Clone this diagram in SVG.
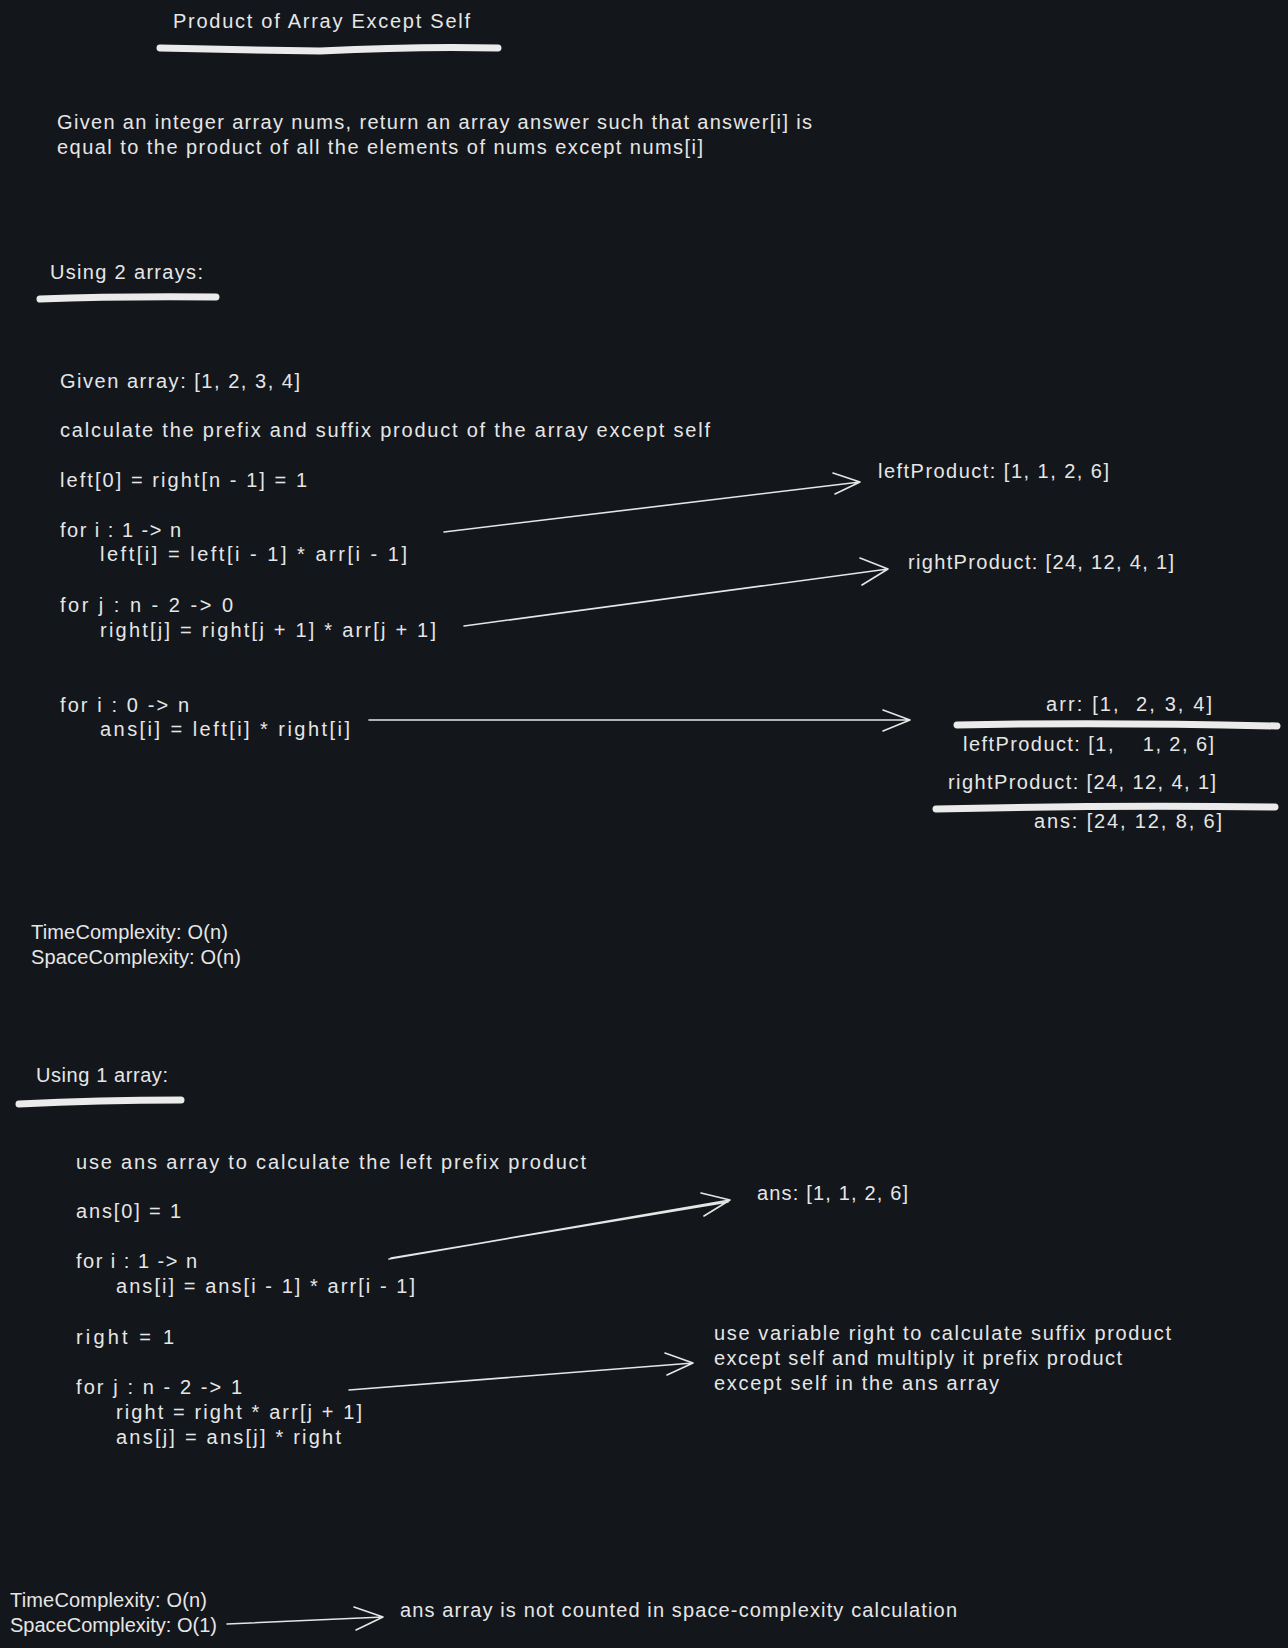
<svg xmlns="http://www.w3.org/2000/svg" width="1288" height="1648" viewBox="0 0 1288 1648">
  <style>
    .t { font-family: "Liberation Sans", "DejaVu Sans", sans-serif; font-size: 20px; fill: #e6e6e6; white-space: pre; }
    .ul { fill: none; stroke: #ebebeb; stroke-width: 7; stroke-linecap: round; stroke-linejoin: round; }
    .ar { fill: none; stroke: #e6e6e6; stroke-width: 1.6; stroke-linecap: round; stroke-linejoin: round; }
  </style>
  <rect width="1288" height="1648" fill="#13161b"/>

  <!-- heading -->
  <g id="title">
    <text class="t" x="173" y="28" textLength="297">Product of Array Except Self</text>
    <path class="ul" d="M160 48 Q240 50 320 51 Q420 46 498 48"/>
  </g>

  <g id="problem">
    <text class="t" x="57" y="129" textLength="755">Given an integer array nums, return an array answer such that answer[i] is</text>
    <text class="t" x="57" y="154" textLength="646">equal to the product of all the elements of nums except nums[i]</text>
  </g>

  <!-- approach 1: two arrays -->
  <g id="heading-two-arrays">
    <text class="t" x="50" y="279" textLength="153">Using 2 arrays:</text>
    <path class="ul" d="M40 299 Q120 296 216 297"/>
  </g>

  <g id="two-arrays-steps">
    <text class="t" x="60" y="388" textLength="240">Given array: [1, 2, 3, 4]</text>
    <text class="t" x="60" y="437" textLength="650">calculate the prefix and suffix product of the array except self</text>
    <text class="t" x="60" y="487" textLength="247">left[0] = right[n - 1] = 1</text>
    <text class="t" x="60" y="537" textLength="121">for i : 1 -&gt; n</text>
    <text class="t" x="100" y="561" textLength="307">left[i] = left[i - 1] * arr[i - 1]</text>
    <text class="t" x="60" y="612" textLength="173">for j : n - 2 -&gt; 0</text>
    <text class="t" x="100" y="637" textLength="336">right[j] = right[j + 1] * arr[j + 1]</text>
    <text class="t" x="60" y="712" textLength="129">for i : 0 -&gt; n</text>
    <text class="t" x="100" y="736" textLength="250">ans[i] = left[i] * right[i]</text>
  </g>

  <g id="left-product">
    <text class="t" x="878" y="478" textLength="231">leftProduct: [1, 1, 2, 6]</text>
  </g>
  <g id="right-product">
    <text class="t" x="908" y="569" textLength="266">rightProduct: [24, 12, 4, 1]</text>
  </g>

  <g id="product-table">
    <text class="t" x="1046" y="711" textLength="166">arr: [1,  2, 3, 4]</text>
    <path class="ul" d="M957 725 Q1100 722 1277 726"/>
    <text class="t" x="963" y="751" textLength="251">leftProduct: [1,    1, 2, 6]</text>
    <text class="t" x="948" y="789" textLength="268">rightProduct: [24, 12, 4, 1]</text>
    <path class="ul" d="M936 809 Q1100 805 1275 807"/>
    <text class="t" x="1034" y="828" textLength="188">ans: [24, 12, 8, 6]</text>
  </g>

  <g id="complexity-two-arrays">
    <text class="t" x="31" y="939" textLength="197">TimeComplexity: O(n)</text>
    <text class="t" x="31" y="964" textLength="210">SpaceComplexity: O(n)</text>
  </g>

  <!-- approach 2: one array -->
  <g id="heading-one-array">
    <text class="t" x="36" y="1082" textLength="132">Using 1 array:</text>
    <path class="ul" d="M19 1104 Q100 1100 181 1100"/>
  </g>

  <g id="one-array-steps">
    <text class="t" x="76" y="1169" textLength="510">use ans array to calculate the left prefix product</text>
    <text class="t" x="76" y="1218" textLength="105">ans[0] = 1</text>
    <text class="t" x="76" y="1268" textLength="121">for i : 1 -&gt; n</text>
    <text class="t" x="116" y="1293" textLength="299">ans[i] = ans[i - 1] * arr[i - 1]</text>
    <text class="t" x="76" y="1344" textLength="98">right = 1</text>
    <text class="t" x="76" y="1394" textLength="166">for j : n - 2 -&gt; 1</text>
    <text class="t" x="116" y="1419" textLength="246">right = right * arr[j + 1]</text>
    <text class="t" x="116" y="1444" textLength="225">ans[j] = ans[j] * right</text>
  </g>

  <g id="ans-prefix">
    <text class="t" x="757" y="1200" textLength="151">ans: [1, 1, 2, 6]</text>
  </g>

  <g id="suffix-note">
    <text class="t" x="714" y="1340" textLength="457">use variable right to calculate suffix product</text>
    <text class="t" x="714" y="1365" textLength="408">except self and multiply it prefix product</text>
    <text class="t" x="714" y="1390" textLength="285">except self in the ans array</text>
  </g>

  <g id="complexity-one-array">
    <text class="t" x="10" y="1607" textLength="197">TimeComplexity: O(n)</text>
    <text class="t" x="10" y="1632" textLength="207">SpaceComplexity: O(1)</text>
  </g>

  <g id="space-note">
    <text class="t" x="400" y="1617" textLength="557">ans array is not counted in space-complexity calculation</text>
  </g>

  <!-- connectors -->
  <g id="connectors">
    <path class="ar" d="M444 532 L860 482 M833 473 L860 482 L835 494"/>
    <path class="ar" d="M464 626 L888 569 M860 558 L888 569 L862 585"/>
    <path class="ar" d="M369 720 L910 720 M883 710 L910 720 L883 731"/>
    <path class="ar" d="M389 1259 L730 1200 M391 1258 L728 1202 M701 1193 L730 1200 L704 1216"/>
    <path class="ar" d="M349 1390 L693 1363 M665 1353 L693 1363 L667 1375"/>
    <path class="ar" d="M227 1624 L383 1617 M354 1607 L383 1617 L356 1630"/>
  </g>
</svg>
